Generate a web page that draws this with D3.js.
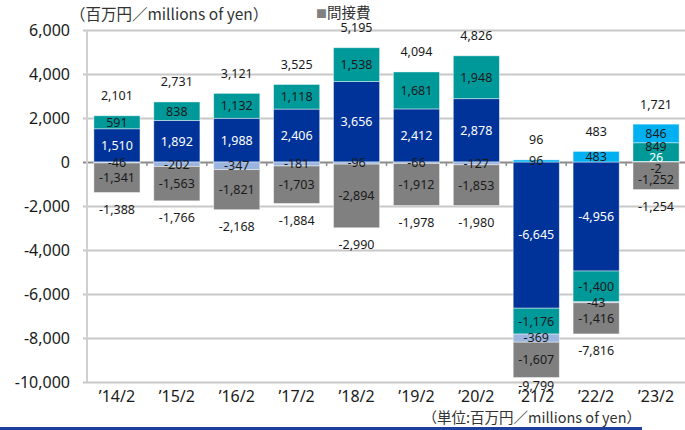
<!DOCTYPE html>
<html>
    <head>
        <meta charset="utf-8">
        <style>
            body {
                margin: 0;
                background: white;
                font-family: 'Noto Sans CJK JP', 'Noto Sans', sans-serif;
            }
            svg {
                display: block;
            }
            .tick text {
                fill: #1a1a1a;
            }
        </style>
    </head>
    <body>
        <svg width="685" height="430"></svg>

    <script src="https://d3js.org/d3.v7.min.js"></script>
    <script>
        // categories (fiscal years)
        let categories = ["’14/2", "’15/2", "’16/2", "’17/2", "’18/2", "’19/2", "’20/2", "’21/2", "’22/2", "’23/2"]

        // series values, stacking order
        let seriesA = [1510, 1892, 1988, 2406, 3656, 2412, 2878, -6645, -4956, 26]      // dark blue
        let seriesB = [591, 838, 1132, 1118, 1538, 1681, 1948, -1176, -1400, 849]       // teal
        let seriesC = [0, 0, 0, 0, 0, 0, 0, 96, 483, 846]                              // sky blue
        let seriesD = [-46, -202, -347, -181, -96, -66, -127, -369, -43, -2]           // light blue
        let indirect = [-1341, -1563, -1821, -1703, -2894, -1912, -1853, -1607, -1416, -1252] // 間接費

        // totals printed above / below the bars
        let posTotals = [2101, 2731, 3121, 3525, 5195, 4094, 4826, 96, 483, 1721]
        let negTotals = [-1388, -1766, -2168, -1884, -2990, -1978, -1980, -9799, -7816, -1254]

        let yTicks = [6000, 4000, 2000, 0, -2000, -4000, -6000, -8000, -10000]

        let keys = ["a", "b", "c", "d", "e"]
        let colors = {a: "#003399", b: "#00999a", c: "#00b0f0", d: "#9bb5df", e: "#808080"}
        let textColors = {a: "#ffffff", b: "#1a1a1a", c: "#1a1a1a", d: "#1a1a1a", e: "#1a1a1a"}

        let table = categories.map((c, i) => ({
            cat: c, a: seriesA[i], b: seriesB[i], c: seriesC[i], d: seriesD[i], e: indirect[i]
        }))

        // plain hyphen for negatives, like the original
        let fmt = v => (v < 0 ? "-" : "") + d3.format(",")(Math.abs(v))

        let svg = d3.select("svg")
        let margin = {top: 30, right: 0, bottom: 48, left: 87}
        let width = 685
        let height = 430

        let x = d3.scaleBand()
            .domain(categories)
            .range([margin.left, 686])
            .paddingInner(0.23)
            .paddingOuter(0.115)

        let xStep = d3.scaleBand().domain(categories).range([margin.left, 686])

        let y = d3.scaleLinear()
            .domain([-10000, 6000])
            .range([height - margin.bottom, margin.top])

        // gridlines + y labels
        let yAxis = d3.axisLeft(y)
            .tickValues(yTicks)
            .tickSize(-(width - margin.left + 4))
            .tickPadding(13)
            .tickFormat(fmt)

        let yG = svg.append("g")
            .attr("transform", `translate(${margin.left - 4},0)`)
            .call(yAxis)
            .style("font-size", "16px")
            .style("font-family", "'Noto Sans', sans-serif")
        yG.select(".domain").remove()
        yG.selectAll(".tick line")
            .attr("stroke", d => d === 0 ? "#8c8c8c" : "#c8c8c8")
            .attr("stroke-width", 2)

        // left axis line
        svg.append("line")
            .attr("x1", margin.left).attr("x2", margin.left)
            .attr("y1", y(6000)).attr("y2", y(-10000))
            .attr("stroke", "#d0d0d0")
            .attr("stroke-width", 2)

        // small ticks on the zero line between categories
        svg.append("g")
            .selectAll("line")
            .data(categories.slice(1))
            .join("line")
            .attr("x1", d => xStep(d)).attr("x2", d => xStep(d))
            .attr("y1", y(0)).attr("y2", y(0) + 4)
            .attr("stroke", "#8c8c8c")
            .attr("stroke-width", 1.5)

        let stack = d3.stack()
            .keys(keys)
            .offset(d3.stackOffsetDiverging)
        let series = stack(table)

        // bars
        svg.append("g")
            .selectAll("g")
            .data(series)
            .join("g")
            .attr("fill", s => colors[s.key])
            .selectAll("rect")
            .data(s => s.filter(d => d[1] !== d[0]))
            .join("rect")
            .attr("x", d => x(d.data.cat))
            .attr("y", d => y(Math.max(d[0], d[1])))
            .attr("height", d => Math.abs(y(d[0]) - y(d[1])))
            .attr("width", x.bandwidth())
            .attr("stroke", "rgba(255,255,255,0.55)")
            .attr("stroke-width", 0.8)

        // segment labels, spread apart when they crowd (like excel does)
        let labels = []
        let minGap = 11
        categories.forEach((c, i) => {
            let segs = series.map(s => ({cat: c, key: s.key, v: s[i].data[s.key], y: y((s[i][0] + s[i][1]) / 2)}))
                .filter(d => d.v !== 0)
                .sort((p, q) => p.y - q.y)
            for (let it = 0; it < 40; it++) {
                for (let k = 1; k < segs.length; k++) {
                    let gap = segs[k].y - segs[k - 1].y
                    if (gap < minGap) {
                        let push = (minGap - gap) / 2
                        segs[k].y += push
                        segs[k - 1].y -= push
                    }
                }
            }
            labels.push(...segs)
        })

        svg.append("g")
            .selectAll("text")
            .data(labels)
            .join("text")
            .attr("x", d => x(d.cat) + x.bandwidth() / 2)
            .attr("y", d => d.y)
            .attr("dy", "0.35em")
            .attr("text-anchor", "middle")
            .style("font-size", "12.5px")
            .style("font-family", "'Noto Sans', sans-serif")
            .style("fill", d => textColors[d.key])
            .text(d => fmt(d.v))

        // totals
        svg.append("g")
            .selectAll("text")
            .data(categories)
            .join("text")
            .attr("x", d => x(d) + x.bandwidth() / 2)
            .attr("y", (d, i) => y(posTotals[i]) - 20)
            .attr("dy", "0.35em")
            .attr("text-anchor", "middle")
            .style("font-size", "12.5px")
            .style("font-family", "'Noto Sans', sans-serif")
            .style("fill", "#1a1a1a")
            .text((d, i) => fmt(posTotals[i]))

        svg.append("g")
            .selectAll("text")
            .data(categories)
            .join("text")
            .attr("x", d => x(d) + x.bandwidth() / 2)
            .attr("y", (d, i) => Math.min(y(negTotals[i]) + 17, 386))
            .attr("dy", "0.35em")
            .attr("text-anchor", "middle")
            .style("font-size", "12.5px")
            .style("font-family", "'Noto Sans', sans-serif")
            .style("fill", "#1a1a1a")
            .text((d, i) => fmt(negTotals[i]))

        // x axis labels
        let xG = svg.append("g")
            .attr("transform", `translate(0,${y(-10000)})`)
            .call(d3.axisBottom(xStep).tickSize(0).tickPadding(9))
            .style("font-size", "16px")
            .style("font-family", "'Noto Sans', sans-serif")
        xG.select(".domain").remove()

        // unit text, legend
        svg.append("text")
            .attr("x", 70).attr("y", 15)
            .attr("dy", "0.35em")
            .style("font-size", "15.5px")
            .style("fill", "#333")
            .text("（百万円／millions of yen）")

        let leg = svg.append("text")
            .attr("x", 316).attr("y", 13)
            .attr("dy", "0.35em")
            .style("font-size", "14.5px")
            .style("fill", "#333")
        leg.append("tspan").style("fill", "#808080").style("font-size", "11px").text("■")
        leg.append("tspan").text("間接費")

        svg.append("text")
            .attr("x", 641).attr("y", 418)
            .attr("dy", "0.35em")
            .attr("text-anchor", "end")
            .style("font-size", "14.5px")
            .style("fill", "#333")
            .text("（単位:百万円／millions of yen）")

        // blue rule at the bottom
        svg.append("line")
            .attr("x1", 0).attr("x2", 642)
            .attr("y1", 428.5).attr("y2", 428.5)
            .attr("stroke", "#1f3f9f")
            .attr("stroke-width", 3)
    </script>
    </body>
</html>
